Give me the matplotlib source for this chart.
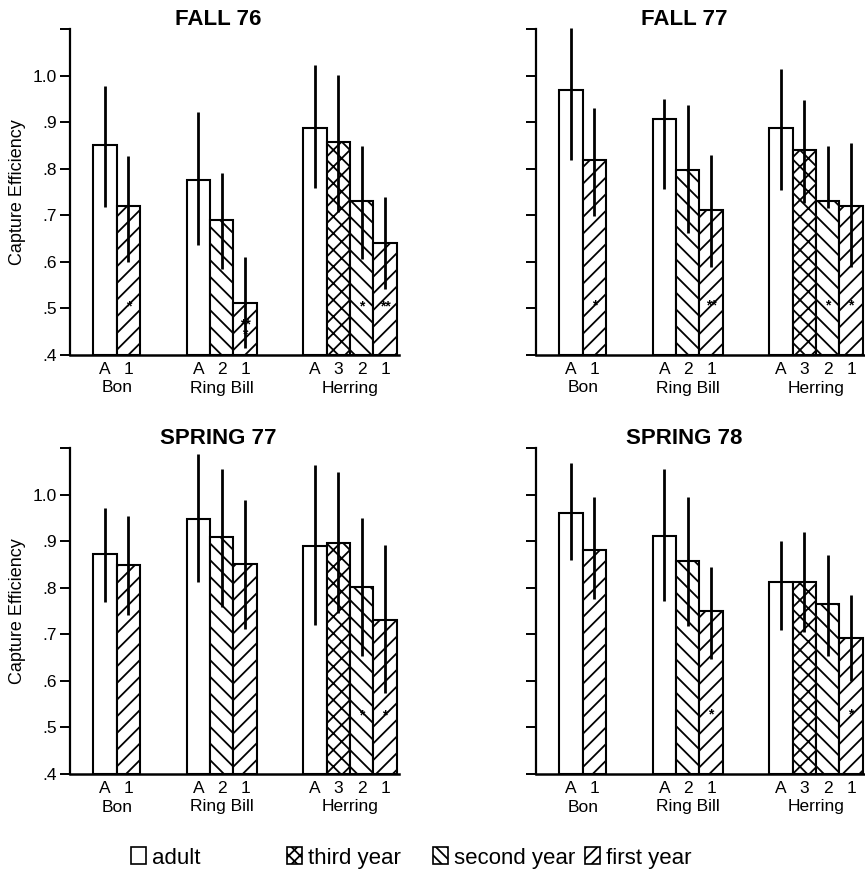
import numpy as np
import matplotlib
matplotlib.use("Agg")
import matplotlib.pyplot as plt
from matplotlib.patches import Patch

plt.rcParams['font.family'] = ['Liberation Sans', 'DejaVu Sans']
plt.rcParams['hatch.linewidth'] = 1.3

# groups of gulls and the age class of each bar
groups = ["Bon", "Ring Bill", "Herring"]
group_sizes = [2, 3, 4]
bar_labels = ["A", "1", "A", "2", "1", "A", "3", "2", "1"]
bar_ages = ["adult", "first", "adult", "second", "first",
            "adult", "third", "second", "first"]

titles = ["FALL 76", "FALL 77", "SPRING 77", "SPRING 78"]

# capture efficiency (bar tops) and error bar ends
fall76 = [0.850, 0.720, 0.776, 0.689, 0.511, 0.888, 0.858, 0.730, 0.640]
fall76_lo = [0.717, 0.599, 0.637, 0.584, 0.415, 0.758, 0.707, 0.606, 0.542]
fall76_hi = [0.977, 0.828, 0.922, 0.790, 0.610, 1.022, 1.002, 0.849, 0.740]

fall77 = [0.968, 0.818, 0.907, 0.798, 0.712, 0.888, 0.841, 0.730, 0.719]
fall77_lo = [0.819, 0.699, 0.756, 0.661, 0.590, 0.755, 0.726, 0.715, 0.590]
fall77_hi = [1.102, 0.931, 0.949, 0.937, 0.829, 1.015, 0.948, 0.848, 0.855]

spring77 = [0.872, 0.849, 0.947, 0.909, 0.850, 0.890, 0.897, 0.802, 0.731]
spring77_lo = [0.769, 0.742, 0.812, 0.758, 0.711, 0.720, 0.745, 0.654, 0.575]
spring77_hi = [0.971, 0.953, 1.087, 1.054, 0.988, 1.064, 1.048, 0.950, 0.892]

spring78 = [0.960, 0.882, 0.910, 0.857, 0.749, 0.812, 0.812, 0.766, 0.693]
spring78_lo = [0.860, 0.776, 0.772, 0.717, 0.646, 0.710, 0.704, 0.654, 0.600]
spring78_hi = [1.067, 0.994, 1.055, 0.994, 0.844, 0.900, 0.919, 0.871, 0.784]

# significance marks drawn inside the bars, and their height
fall76_sig = ["", "*", "", "", "**\n*", "", "", "*", "**"]
fall77_sig = ["", "*", "", "", "**", "", "", "*", "*"]
spring77_sig = ["", "", "", "", "", "", "", "*", "*"]
spring78_sig = ["", "", "", "", "*", "", "", "", "*"]
sig_y = [0.505, 0.507, 0.525, 0.527]

panels = [
    (fall76, fall76_lo, fall76_hi, fall76_sig),
    (fall77, fall77_lo, fall77_hi, fall77_sig),
    (spring77, spring77_lo, spring77_hi, spring77_sig),
    (spring78, spring78_lo, spring78_hi, spring78_sig),
]

hatches = {"adult": "", "third": "xx", "second": "\\\\", "first": "//"}
legend_names = {"adult": "adult", "third": "third year",
                "second": "second year", "first": "first year"}

# bar positions: one bar width before the first group, two between groups
xpos, centers = [], []
x = 1.0
for n in group_sizes:
    xpos.extend(x + 0.5 + np.arange(n))
    centers.append(x + n / 2)
    x += n + 2
xpos = np.array(xpos)

fig = plt.figure(figsize=(8.65, 8.83), dpi=100)
W, H = 865, 883
boxes = [(70, 29), (536, 29), (70, 448), (536, 448)]
ax_w, ax_h = 329, 326

for i, (vals, lo, hi, sig) in enumerate(panels):
    left, top = boxes[i]
    ax = fig.add_axes([left / W, 1 - (top + ax_h) / H, ax_w / W, ax_h / H])
    vals = np.array(vals)
    for xb, v, age in zip(xpos, vals, bar_ages):
        ax.bar(xb, v - 0.4, bottom=0.4, width=1.0, color="white",
               edgecolor="black", linewidth=1.5, hatch=hatches[age])
    yerr = [vals - np.array(lo), np.array(hi) - vals]
    ax.errorbar(xpos, vals, yerr=yerr, fmt="none", ecolor="black",
                elinewidth=2.0, capsize=0, clip_on=False, zorder=4)
    for xb, s in zip(xpos, sig):
        if not s:
            continue
        yy = sig_y[i] if "\n" not in s else 0.455
        ax.text(xb, yy, s, ha="center", va="center", fontsize=10,
                fontweight="bold", linespacing=0.6, zorder=5)

    ax.set_xlim(0, 14.1)
    ax.set_ylim(0.4, 1.1)
    ax.spines["top"].set_visible(False)
    ax.spines["right"].set_visible(False)
    ax.spines["left"].set_linewidth(1.6)
    ax.spines["bottom"].set_linewidth(1.8)

    ax.set_yticks(np.arange(0.4, 1.101, 0.1))
    ax.set_yticklabels([".4", ".5", ".6", ".7", ".8", ".9", "1.0", ""])
    ax.tick_params(axis="y", direction="out", length=7.5, width=1.4,
                   labelsize=12.5, pad=2, labelleft=(i % 2 == 0))
    ax.set_xticks(xpos)
    ax.set_xticklabels(bar_labels)
    ax.tick_params(axis="x", length=0, labelsize=12.5, pad=5)
    for c, g in zip(centers, groups):
        ax.text(c, -33 / ax_h, g, ha="center", va="center", fontsize=12.5,
                transform=ax.get_xaxis_transform())
    if i % 2 == 0:
        ax.set_ylabel("Capture Efficiency", fontsize=13, labelpad=5)
    ax.text(0.45, 1 + 4 / ax_h, titles[i], ha="center", va="baseline",
            fontsize=16, fontweight="bold", transform=ax.transAxes)

# legend entries, spaced as in the original
legend_x = [131, 287, 433, 585]
legend_hatch = {"adult": "", "third": "xxx", "second": "\\\\\\", "first": "///"}
for age, lx in zip(["adult", "third", "second", "first"], legend_x):
    handle = Patch(facecolor="white", edgecolor="black", linewidth=1.2,
                   hatch=legend_hatch[age], label=legend_names[age])
    fig.legend(handles=[handle], loc="center left",
               bbox_to_anchor=(lx / W, 1 - 858 / H), frameon=False,
               fontsize=16, handlelength=0.68, handleheight=0.8,
               handletextpad=0.25, borderpad=0, borderaxespad=0)

fig.savefig("out.png", dpi=100)
